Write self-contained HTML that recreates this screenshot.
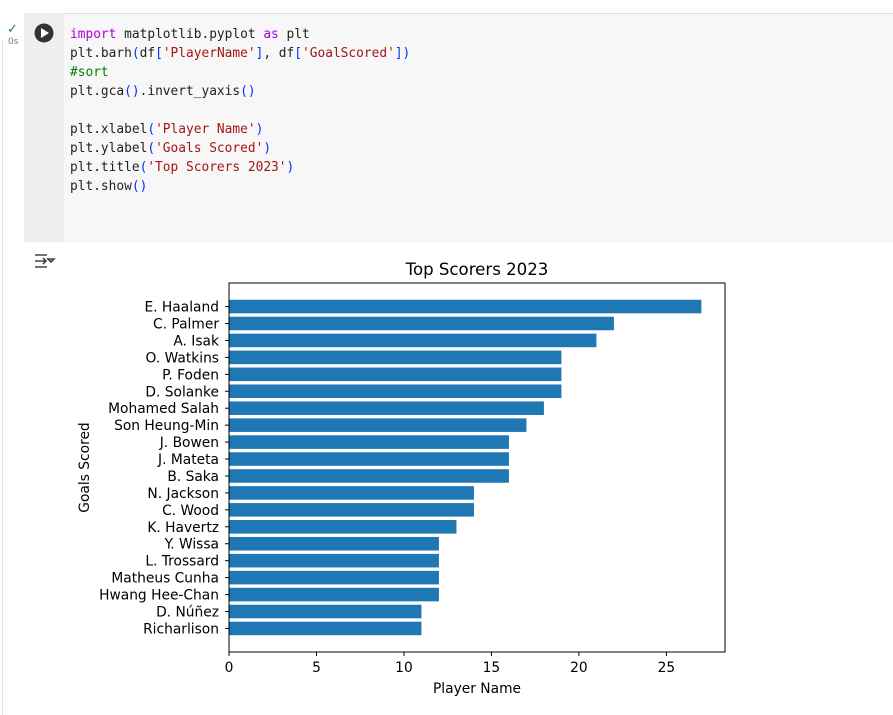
<!DOCTYPE html>
<html><head><meta charset="utf-8"><style>
body{margin:0;width:893px;height:715px;background:#fff;overflow:hidden;font-family:"DejaVu Sans","Liberation Sans",sans-serif;position:relative}
.cell{position:absolute;left:24px;top:13px;width:869px;height:229px;background:#f7f7f7;border-top:1px solid #e0e0e0}
.gutter{position:absolute;left:24px;top:13px;width:40px;height:229px;background:#eeeeee}
.code{position:absolute;left:70px;top:25px;font-family:"DejaVu Sans Mono","Liberation Mono",monospace;font-size:12.85px;line-height:19px;color:#1f1f1f;white-space:pre}
.kw{color:#af00db}.st{color:#a31515}.cm{color:#008000}.br{color:#0431fa}
.leftline{position:absolute;left:2px;top:40px;width:1px;height:675px;background:#e0e0e0}
</style></head><body>
<div class="leftline"></div>
<div class="cell"></div>
<div class="gutter"></div>
<div style="position:absolute;left:7px;top:22px;color:#2e7d32;font-size:13px">✓</div>
<div style="position:absolute;left:8px;top:37px;color:#777;font-size:9px">0s</div>
<svg style="position:absolute;left:34px;top:23px" width="20" height="20"><circle cx="10" cy="10" r="9.5" fill="#333"/><polygon points="7,5 15,10 7,15" fill="#fff"/></svg>
<div class="code"><span class="kw">import</span> matplotlib.pyplot <span class="kw">as</span> plt
plt.barh<span class="br">(</span>df<span class="br">[</span><span class="st">'PlayerName'</span><span class="br">]</span>, df<span class="br">[</span><span class="st">'GoalScored'</span><span class="br">])</span>
<span class="cm">#sort</span>
plt.gca<span class="br">()</span>.invert_yaxis<span class="br">()</span>

plt.xlabel<span class="br">(</span><span class="st">'Player Name'</span><span class="br">)</span>
plt.ylabel<span class="br">(</span><span class="st">'Goals Scored'</span><span class="br">)</span>
plt.title<span class="br">(</span><span class="st">'Top Scorers 2023'</span><span class="br">)</span>
plt.show<span class="br">()</span></div>
<svg style="position:absolute;left:33px;top:251px" width="24" height="20"><path d="M2 4h12M2 10h11M2 16h12M10 7l3 3-3 3M15 8h6l-3 3z" stroke="#444" stroke-width="1.6" fill="none"/></svg>
<svg id="chart" style="position:absolute;left:0;top:0" width="893" height="715"></svg>
<script>
const players=["E. Haaland","C. Palmer","A. Isak","O. Watkins","P. Foden","D. Solanke","Mohamed Salah","Son Heung-Min","J. Bowen","J. Mateta","B. Saka","N. Jackson","C. Wood","K. Havertz","Y. Wissa","L. Trossard","Matheus Cunha","Hwang Hee-Chan","D. Núñez","Richarlison"];
const goals=[27,22,21,19,19,19,18,17,16,16,16,14,14,13,12,12,12,12,11,11];
const xTicks=[0,5,10,15,20,25];
const svg=document.getElementById('chart');const NS='http://www.w3.org/2000/svg';
const L=229,R=725,T=283,B=652;
const xmax=Math.max(...goals)*1.05;
const x=v=>L+v/xmax*(R-L);
const n=players.length;const ymin=-0.4-(n-0.2)*0.05,ymax=n-0.6+(n-0.2)*0.05;
const y=i=>T+(i-ymin)/(ymax-ymin)*(B-T);
const bh=0.8*(B-T)/(ymax-ymin);
function mk(t,a,txt){const e=document.createElementNS(NS,t);for(const k in a)e.setAttribute(k,a[k]);if(txt!==undefined)e.textContent=txt;svg.appendChild(e);return e;}
const F='font-family:"DejaVu Sans","Liberation Sans",sans-serif';
goals.forEach((g,i)=>{
 const r=mk('rect',{x:x(0),y:y(i)-bh/2,width:x(g)-x(0),height:bh,fill:'#1f77b4'});
 
 
 const tk=mk('line',{x1:L-4,x2:L,y1:y(i),y2:y(i),stroke:'#000','stroke-width':1});
 
 
 const t=mk('text',{x:L-10,y:y(i)+5,'text-anchor':'end','font-size':'13.8',style:F},players[i]);
 
 
});
xTicks.forEach(v=>{
 const tk=mk('line',{x1:x(v),x2:x(v),y1:B,y2:B+4,stroke:'#000','stroke-width':1});
 
 
 const t=mk('text',{x:x(v),y:B+20,'text-anchor':'middle','font-size':'13.8',style:F},String(v));
 
 
});
const fr=mk('rect',{x:L,y:T,width:R-L,height:B-T,fill:'none',stroke:'#000','stroke-width':1});


const ti=mk('text',{x:(L+R)/2,y:T-8,'text-anchor':'middle','font-size':'16.6',style:F},'Top Scorers 2023');


const xl=mk('text',{x:(L+R)/2,y:B+41,'text-anchor':'middle','font-size':'13.8',style:F},'Player Name');


const yl=mk('text',{x:0,y:0,'text-anchor':'middle','font-size':'13.8',style:F,transform:'translate(89,'+((T+B)/2)+') rotate(-90)'},'Goals Scored');


</script>
</body></html>
